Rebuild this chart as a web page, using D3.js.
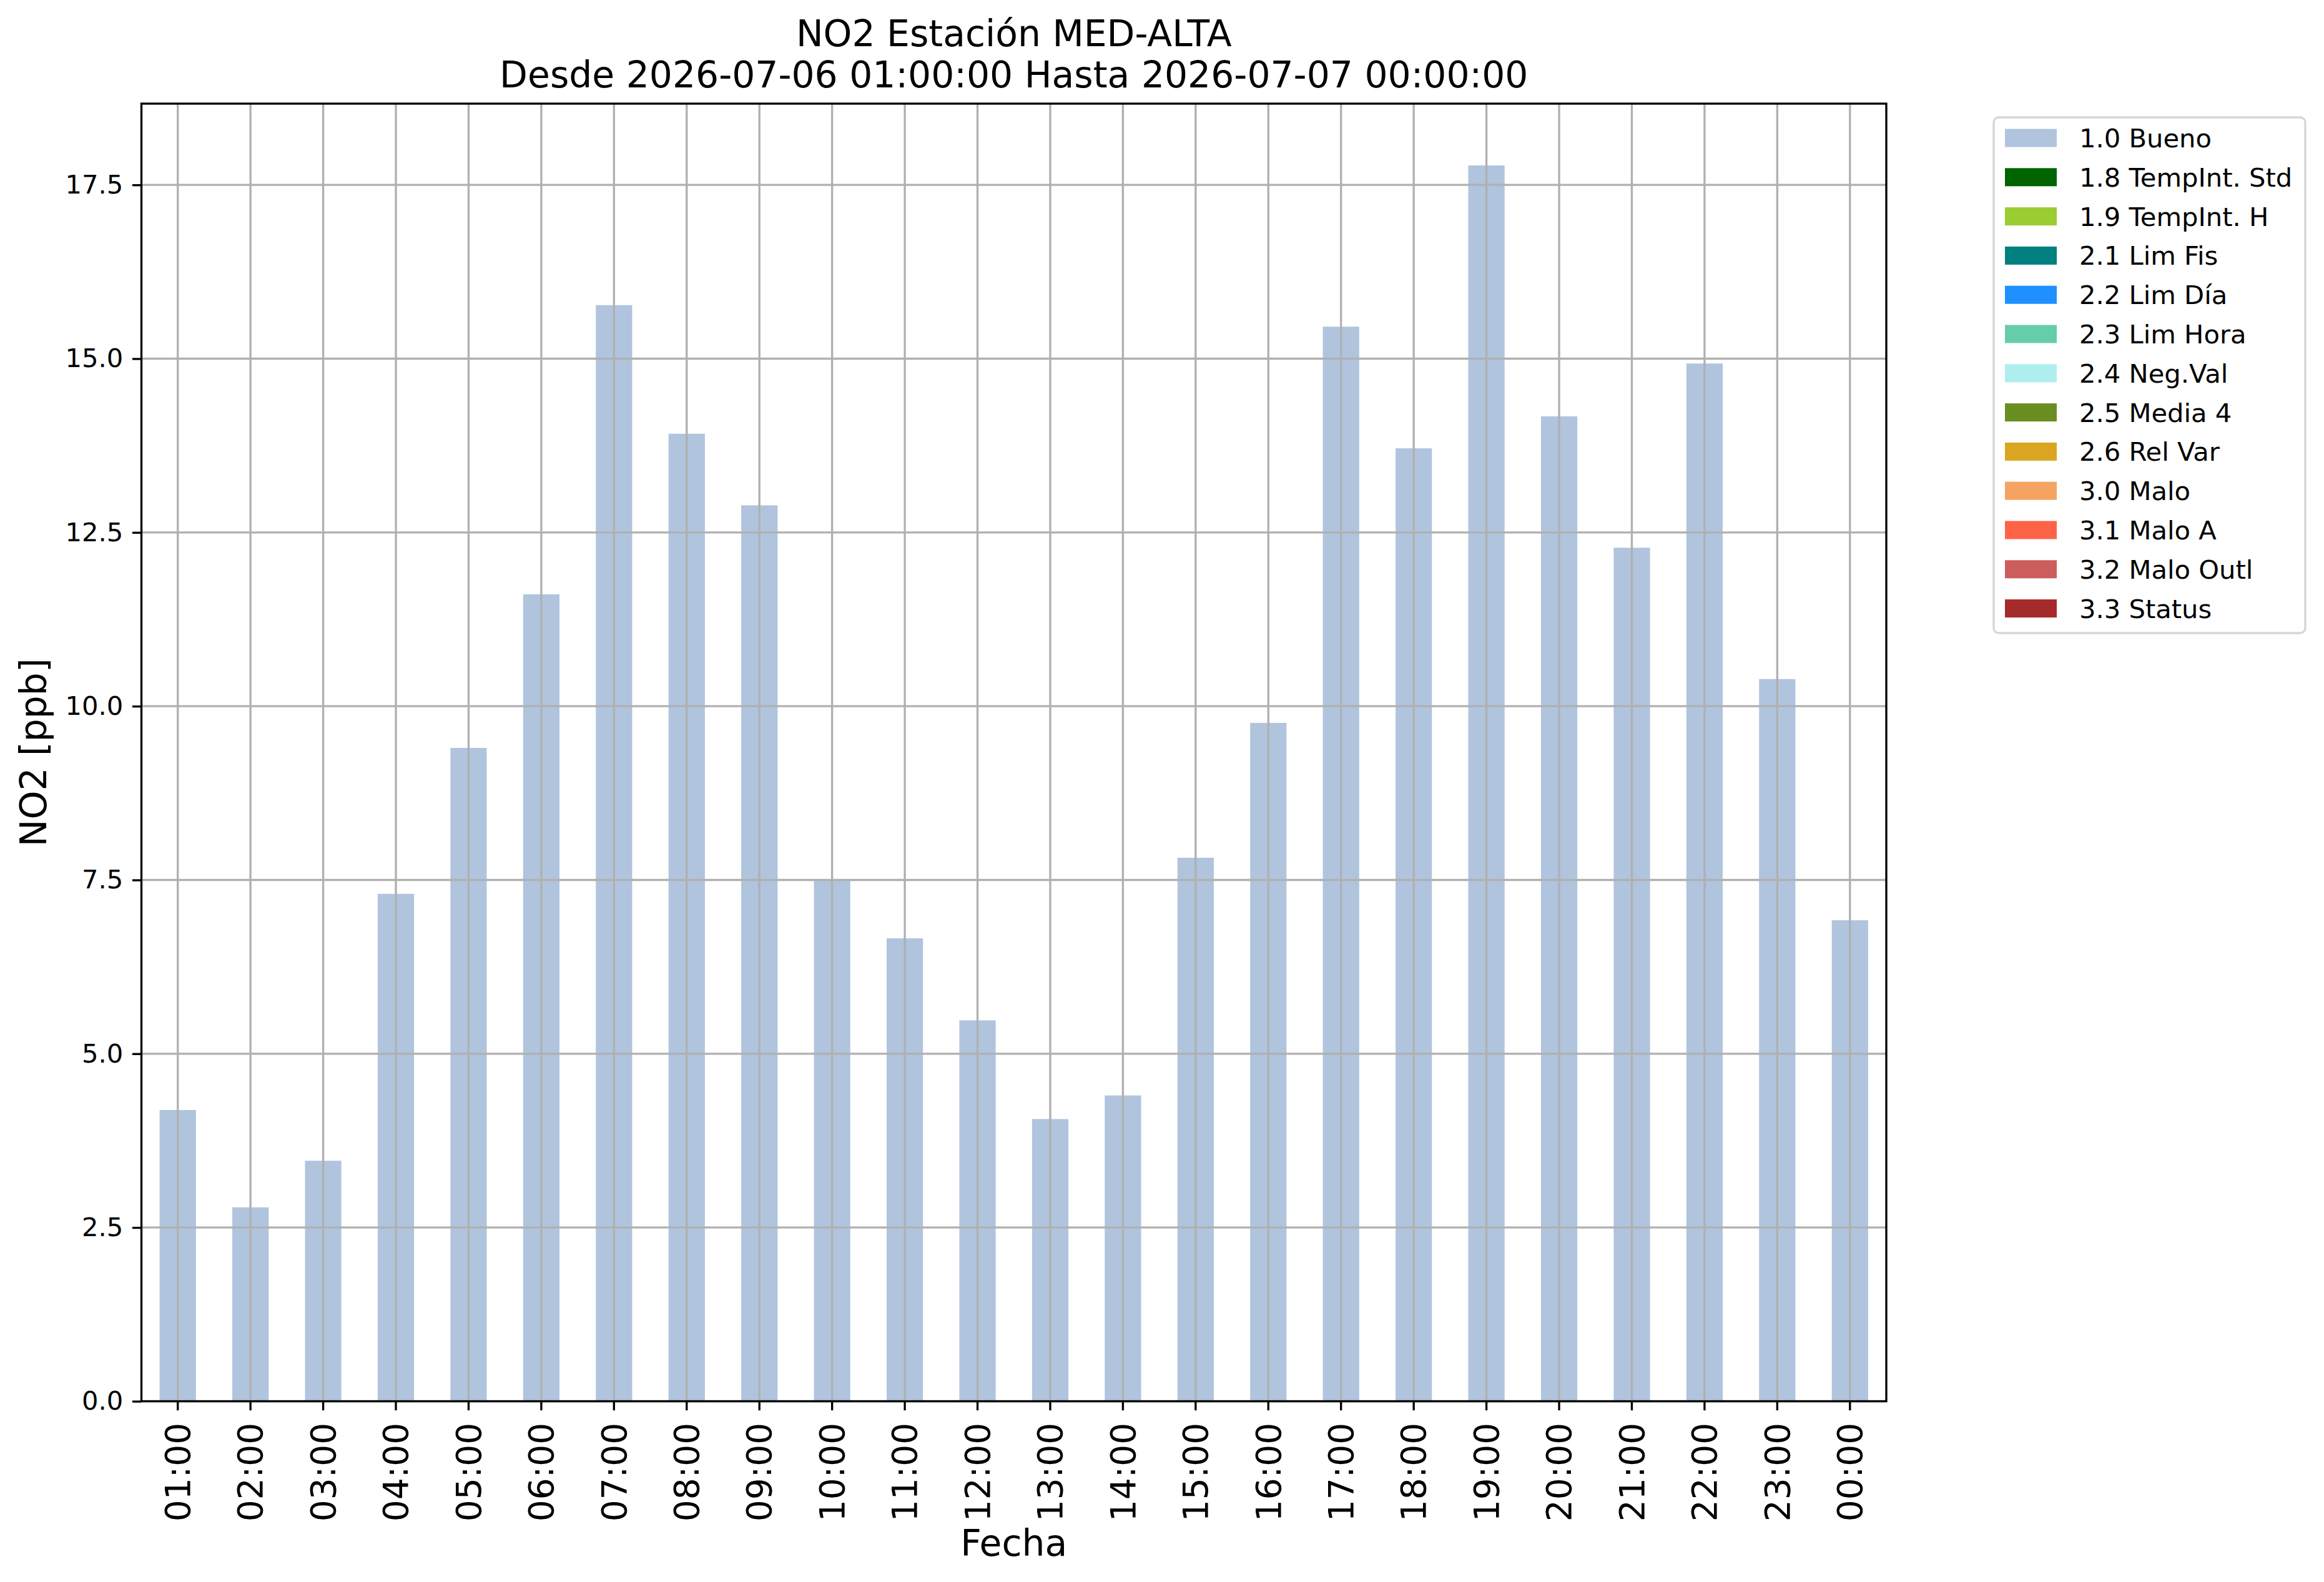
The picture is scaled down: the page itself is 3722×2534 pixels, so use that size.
<!DOCTYPE html>
<html>
<head>
<meta charset="utf-8">
<script src="https://cdn.jsdelivr.net/npm/d3@7"></script>
<style>
  html, body { margin: 0; padding: 0; background: #fff; }
  svg { display: block; font-family: "DejaVu Sans", sans-serif; }
</style>
</head>
<body>
<svg id="chart" width="3722" height="2534"></svg>
<script>
// hourly NO2 values, one per category
const hours = ['01:00', '02:00', '03:00', '04:00', '05:00', '06:00', '07:00', '08:00',
  '09:00', '10:00', '11:00', '12:00', '13:00', '14:00', '15:00', '16:00',
  '17:00', '18:00', '19:00', '20:00', '21:00', '22:00', '23:00', '00:00'];
const no2 = [4.19, 2.79, 3.46, 7.30, 9.40, 11.61, 15.77, 13.92,
  12.89, 7.51, 6.66, 5.48, 4.06, 4.40, 7.82, 9.76,
  15.46, 13.71, 17.78, 14.17, 12.28, 14.93, 10.39, 6.92];
const yTicks = [0, 2.5, 5, 7.5, 10, 12.5, 15, 17.5];

// quality flag legend
const flagLabels = ['1.0 Bueno', '1.8 TempInt. Std', '1.9 TempInt. H', '2.1 Lim Fis',
  '2.2 Lim Día', '2.3 Lim Hora', '2.4 Neg.Val', '2.5 Media 4', '2.6 Rel Var',
  '3.0 Malo', '3.1 Malo A', '3.2 Malo Outl', '3.3 Status'];
const flagColors = ['#B0C4DE', '#006400', '#9ACD32', '#008080', '#1E90FF', '#66CDAA',
  '#AFEEEE', '#6B8E23', '#DAA520', '#F4A460', '#FF6347', '#CD5C5C', '#A52A2A'];

const titleLines = ['NO2 Estación MED-ALTA', 'Desde 2026-07-06 01:00:00 Hasta 2026-07-07 00:00:00'];

(function () {
  const svg = d3.select('#chart');
  const pt = 300 / 72;                    // figure was rendered at 300 dpi
  const L = 226.5, R = 3021, T = 166, B = 2244.5;
  const grid = '#b0b0b0';

  const x = d3.scaleBand().domain(hours).range([L, R]).paddingInner(0.5).paddingOuter(0.25);
  const y = d3.scaleLinear().domain([0, d3.max(no2) * 1.05]).range([B, T]);

  // bars
  svg.append('g').selectAll('rect').data(no2).join('rect')
    .attr('x', (d, i) => x(hours[i]))
    .attr('width', x.bandwidth())
    .attr('y', d => y(d))
    .attr('height', d => B - y(d))
    .attr('fill', flagColors[0]);

  // grid on top of bars (as in the original)
  const gridG = svg.append('g').attr('stroke', grid).attr('stroke-width', 0.8 * pt);
  hours.forEach(h => {
    const cx = x(h) + x.bandwidth() / 2;
    gridG.append('line').attr('x1', cx).attr('x2', cx).attr('y1', T).attr('y2', B);
  });
  yTicks.forEach(v => {
    gridG.append('line').attr('x1', L).attr('x2', R).attr('y1', y(v)).attr('y2', y(v));
  });

  // axes
  const xAxis = svg.append('g').attr('transform', `translate(0,${B})`)
    .call(d3.axisBottom(x).tickSize(3.5 * pt).tickPadding(3.5 * pt));
  xAxis.select('.domain').remove();
  xAxis.selectAll('.tick line').attr('stroke', '#000').attr('stroke-width', 0.8 * pt);
  xAxis.selectAll('.tick text')
    .attr('font-size', 55).attr('font-family', 'DejaVu Sans').attr('fill', '#000')
    .attr('text-anchor', 'end')
    .attr('transform', `translate(0,${7 * pt + 5}) rotate(-90)`)
    .attr('x', 0).attr('y', 0).attr('dy', '0.35em');

  const yAxis = svg.append('g').attr('transform', `translate(${L},0)`)
    .call(d3.axisLeft(y).tickValues(yTicks).tickFormat(d3.format('.1f'))
      .tickSize(3.5 * pt).tickPadding(3.5 * pt));
  yAxis.select('.domain').remove();
  yAxis.selectAll('.tick line').attr('stroke', '#000').attr('stroke-width', 0.8 * pt);
  yAxis.selectAll('.tick text')
    .attr('font-size', 10 * pt).attr('font-family', 'DejaVu Sans').attr('fill', '#000');

  // spines
  svg.append('rect').attr('x', L).attr('y', T).attr('width', R - L).attr('height', B - T)
    .attr('fill', 'none').attr('stroke', '#000').attr('stroke-width', 0.8 * pt);

  // title
  const cx = (L + R) / 2;
  titleLines.forEach((t, i) => {
    svg.append('text').attr('x', cx).attr('y', 74 + i * 66)
      .attr('text-anchor', 'middle').attr('font-size', 14 * pt).attr('fill', '#000').text(t);
  });

  // axis labels
  svg.append('text').attr('x', cx).attr('y', 2492)
    .attr('text-anchor', 'middle').attr('font-size', 14 * pt).attr('fill', '#000').text('Fecha');
  svg.append('text').attr('transform', `translate(74,${(T + B) / 2}) rotate(-90)`)
    .attr('text-anchor', 'middle').attr('font-size', 14 * pt).attr('fill', '#000').text('NO2 [ppb]');

  // legend
  const lg = svg.append('g');
  lg.append('rect').attr('x', 3193).attr('y', 188).attr('width', 499).attr('height', 826)
    .attr('rx', 8).attr('fill', '#fff').attr('stroke', '#d6d6d6').attr('stroke-width', 0.8 * pt);
  flagLabels.forEach((lab, i) => {
    const cy = 221 + i * 62.8;
    lg.append('rect').attr('x', 3211).attr('y', cy - 14.5).attr('width', 83).attr('height', 29)
      .attr('fill', flagColors[i]);
    lg.append('text').attr('x', 3330).attr('y', cy + 15)
      .attr('font-size', 10 * pt).attr('fill', '#000').text(lab);
  });
})();
</script>
</body>
</html>
